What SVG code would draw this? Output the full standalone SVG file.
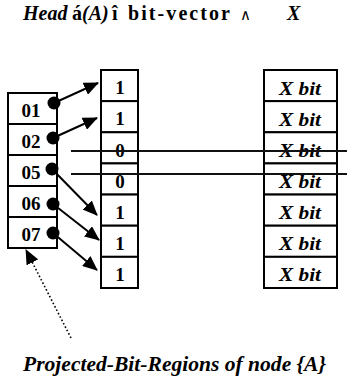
<svg xmlns="http://www.w3.org/2000/svg" width="347" height="383" viewBox="0 0 347 383">
<defs>
<style>
text{font-family:'Liberation Serif','DejaVu Serif',serif}
.bi{font-weight:bold;font-style:italic}
.b{font-weight:bold}
.cell{fill:#fff;stroke:#000;stroke-width:2}
.lbl{font-weight:bold;font-size:19px;text-anchor:middle}
.xb{font-style:italic}
.arr{stroke:#000;stroke-width:2;fill:none;marker-end:url(#ah)}
.dot{fill:#000}
.hl{stroke:#111;stroke-width:2}
.dotted{stroke:#000;stroke-width:1.6;stroke-dasharray:1.6 2.2;fill:none;marker-end:url(#ah)}
</style>
<marker id="ah" markerUnits="userSpaceOnUse" markerWidth="15" markerHeight="13" viewBox="0 0 15 13" refX="14" refY="6.5" orient="auto">
<path d="M0,0 L15,6.5 L0,13 Z" fill="#000"/>
</marker>
</defs>
<rect width="347" height="383" fill="#fff"/>

<g id="title">
<text y="20" font-size="20"><tspan class="bi" x="23">Head</tspan><tspan class="b" x="72">á</tspan><tspan class="bi" x="82">(A)</tspan><tspan class="b" x="112">î</tspan></text>
<text class="b" x="128" y="20" font-size="20" textLength="102" lengthAdjust="spacing">bit-vector</text>
<text x="240" y="20" font-size="15">∧</text>
<text class="bi" x="287" y="20" font-size="20">X</text>
</g>

<g id="node-A">
<rect class="cell" x="8" y="93" width="49" height="31"/>
<rect class="cell" x="8" y="124" width="49" height="31"/>
<rect class="cell" x="8" y="155" width="49" height="31"/>
<rect class="cell" x="8" y="186" width="49" height="31"/>
<rect class="cell" x="8" y="217" width="49" height="31"/>
<text class="lbl" x="31" y="117">01</text>
<text class="lbl" x="31" y="148">02</text>
<text class="lbl" x="31" y="179">05</text>
<text class="lbl" x="31" y="210">06</text>
<text class="lbl" x="31" y="241">07</text>
</g>

<g id="head-vector">
<rect class="cell" x="101" y="70" width="37" height="31.14"/>
<rect class="cell" x="101" y="101.14" width="37" height="31.14"/>
<rect class="cell" x="101" y="132.28" width="37" height="31.14"/>
<rect class="cell" x="101" y="163.42" width="37" height="31.14"/>
<rect class="cell" x="101" y="194.56" width="37" height="31.14"/>
<rect class="cell" x="101" y="225.7" width="37" height="31.14"/>
<rect class="cell" x="101" y="256.84" width="37" height="31.16"/>
<text class="lbl" x="120" y="94">1</text>
<text class="lbl" x="120" y="125">1</text>
<text class="lbl" x="120" y="157">0</text>
<text class="lbl" x="120" y="188">0</text>
<text class="lbl" x="120" y="219">1</text>
<text class="lbl" x="120" y="250">1</text>
<text class="lbl" x="120" y="281">1</text>
</g>

<g id="x-vector">
<rect class="cell" x="264" y="70" width="73" height="31.14"/>
<rect class="cell" x="264" y="101.14" width="73" height="31.14"/>
<rect class="cell" x="264" y="132.28" width="73" height="31.14"/>
<rect class="cell" x="264" y="163.42" width="73" height="31.14"/>
<rect class="cell" x="264" y="194.56" width="73" height="31.14"/>
<rect class="cell" x="264" y="225.7" width="73" height="31.14"/>
<rect class="cell" x="264" y="256.84" width="73" height="31.16"/>
<text class="lbl xb" x="300" y="95" textLength="42" lengthAdjust="spacingAndGlyphs">X bit</text>
<text class="lbl xb" x="300" y="126" textLength="42" lengthAdjust="spacingAndGlyphs">X bit</text>
<text class="lbl xb" x="300" y="157" textLength="42" lengthAdjust="spacingAndGlyphs">X bit</text>
<text class="lbl xb" x="300" y="188" textLength="42" lengthAdjust="spacingAndGlyphs">X bit</text>
<text class="lbl xb" x="300" y="219" textLength="42" lengthAdjust="spacingAndGlyphs">X bit</text>
<text class="lbl xb" x="300" y="250" textLength="42" lengthAdjust="spacingAndGlyphs">X bit</text>
<text class="lbl xb" x="300" y="281" textLength="42" lengthAdjust="spacingAndGlyphs">X bit</text>
</g>

<g id="connectors">
<line class="hl" x1="71" y1="151" x2="347" y2="151"/>
<line class="hl" x1="71" y1="174" x2="347" y2="174"/>
<line class="arr" x1="54" y1="103" x2="98" y2="83"/>
<line class="arr" x1="53" y1="138" x2="97" y2="118"/>
<line class="arr" x1="52" y1="169" x2="97" y2="215"/>
<line class="arr" x1="53" y1="204" x2="99" y2="240"/>
<line class="arr" x1="53" y1="233" x2="97" y2="270"/>
<circle class="dot" cx="54" cy="103" r="6.5"/>
<circle class="dot" cx="53" cy="138" r="6.5"/>
<circle class="dot" cx="52" cy="169" r="6.5"/>
<circle class="dot" cx="53" cy="204" r="6.5"/>
<circle class="dot" cx="53" cy="233" r="6.5"/>
<line class="dotted" x1="71" y1="338" x2="26" y2="250"/>
</g>

<g id="caption">
<text class="bi" x="23" y="371" font-size="21" textLength="303" lengthAdjust="spacingAndGlyphs">Projected-Bit-Regions of node {A}</text>
</g>
</svg>
